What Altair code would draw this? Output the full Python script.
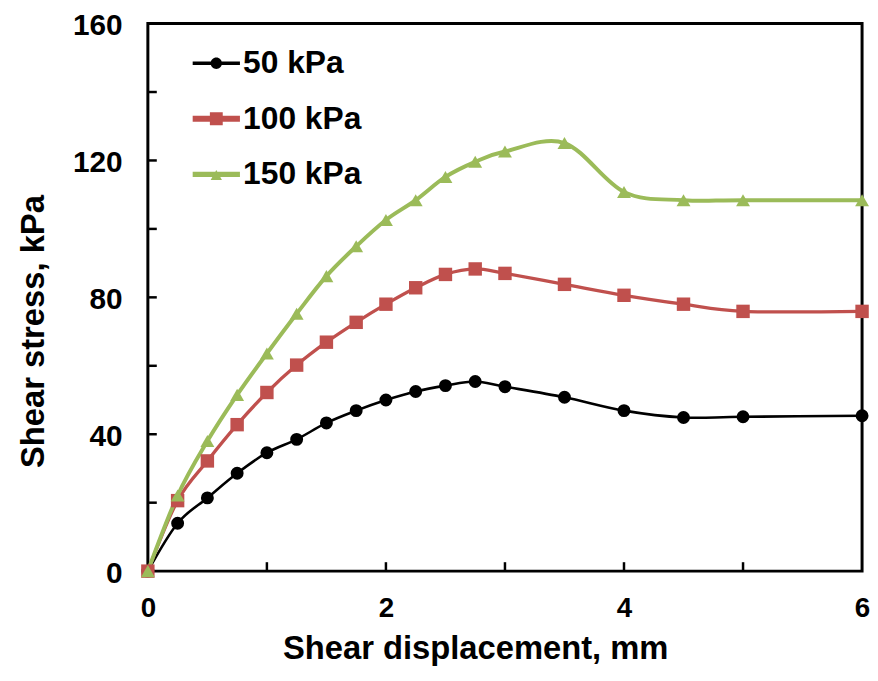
import altair as alt
import pandas as pd

disp = [0, 0.25, 0.5, 0.75, 1, 1.25, 1.5, 1.75, 2, 2.25, 2.5, 2.75, 3, 3.5, 4, 4.5, 5, 6]
s50 = [0, 14.0, 21.4, 28.6, 34.6, 38.5, 43.3, 46.9, 50.0, 52.5, 54.2, 55.4, 53.9, 50.8, 46.9, 44.9, 45.1, 45.4]
s100 = [0, 20.6, 32.2, 42.8, 52.2, 60.2, 66.9, 72.7, 78.0, 82.8, 86.7, 88.3, 87.0, 83.8, 80.6, 78.0, 75.9, 75.9]
s150 = [0, 22.1, 38.0, 51.5, 63.6, 75.2, 86.2, 94.9, 102.6, 108.4, 115.2, 119.6, 122.6, 125.1, 110.8, 108.4, 108.4, 108.4]

series = ["50 kPa", "100 kPa", "150 kPa"]
colors = ["#000000", "#C0504D", "#9BBB59"]
line_widths = [2.6, 4, 4.2]
marker_shapes = ["circle", "square", "triangle-up"]
marker_sizes = [170, 196, 240]

y_label_values = [0, 40, 80, 120, 160]
x_label_values = [0, 2, 4, 6]
y_minor_ticks = [20, 40, 60, 80, 100, 120, 140]
x_minor_ticks = [1, 2, 3, 4, 5]

# legend symbols: line segment with marker (unit box -1..1, 1 unit = 6 px)
legend_paths = [
    "M-3.97,-0.28H3.97V0.28H-3.97Z M0.95,0A0.95,0.95 0 1,1 -0.95,0A0.95,0.95 0 1,1 0.95,0Z",
    "M-3.97,-0.5H3.97V0.5H-3.97Z M-1.08,-1.08H1.08V1.08H-1.08Z",
    "M-3.97,-0.44H3.97V0.44H-3.97Z M0,-0.75L0.95,0.95H-0.95Z",
]

FONT = "Liberation Sans"

rows = []
for name, vals in zip(series, [s50, s100, s150]):
    for x, y in zip(disp, vals):
        rows.append({"series": name, "disp": x, "stress": y})
df = pd.DataFrame(rows)

x_enc = alt.X(
    "disp:Q",
    scale=alt.Scale(domain=[0, 6], nice=False, zero=False),
    axis=alt.Axis(
        values=x_label_values, format="d", title="Shear displacement, mm", grid=False,
        domain=False, ticks=False, labelFontSize=28, labelFontWeight="bold",
        labelFont=FONT, labelColor="black", labelPadding=24, labelFlush=False,
        labelOverlap=False, titleFont=FONT, titleFontSize=33, titleFontWeight="bold",
        titleColor="black", titleX=330, titleY=88, titleBaseline="alphabetic",
    ),
)
y_enc = alt.Y(
    "stress:Q",
    scale=alt.Scale(domain=[0, 160], nice=False),
    axis=alt.Axis(
        values=y_label_values, format="d", title="Shear stress, kPa", grid=False,
        domain=False, ticks=False, labelFontSize=30, labelFontWeight="bold",
        labelFont=FONT, labelColor="black", labelPadding=26, labelOverlap=False,
        labelFlush=False, labelOffset=2, titleFont=FONT, titleFontSize=33,
        titleFontWeight="bold", titleColor="black", titlePadding=22, titleY=310,
    ),
)

color_main = alt.Color("series:N", scale=alt.Scale(domain=series, range=colors), legend=None)

lines = alt.Chart(df).mark_line(interpolate="cardinal").encode(
    x=x_enc, y=y_enc, color=color_main,
    strokeWidth=alt.StrokeWidth("series:N", scale=alt.Scale(domain=series, range=line_widths), legend=None),
    detail="series:N",
)

points = alt.Chart(df).mark_point(filled=True, opacity=1).encode(
    x="disp:Q", y="stress:Q", color=color_main,
    shape=alt.Shape("series:N", scale=alt.Scale(domain=series, range=marker_shapes), legend=None),
    size=alt.Size("series:N", scale=alt.Scale(domain=series, range=marker_sizes), legend=None),
)

y_ticks = alt.Chart(pd.DataFrame({"stress": y_minor_ticks})).mark_rule(color="black", strokeWidth=2.5).encode(
    y="stress:Q", x=alt.value(0), x2=alt.value(9)
)
x_ticks = alt.Chart(pd.DataFrame({"disp": x_minor_ticks})).mark_rule(color="black", strokeWidth=2.5).encode(
    x="disp:Q", y=alt.value(552), y2=alt.value(543)
)

main = alt.layer(lines, points, y_ticks, x_ticks)

leg_cfg = alt.Legend(
    title=None, orient="none", legendX=53, legendY=24, padding=0, symbolSize=144,
    symbolStrokeWidth=0, symbolOpacity=1, labelFontSize=32, labelFont=FONT,
    labelFontWeight="bold", labelColor="black", labelOffset=11, rowPadding=24,
    labelBaseline="middle",
)

legend_layer = alt.Chart(pd.DataFrame({"series": series})).mark_point(filled=True, opacity=1, clip=True).encode(
    x=alt.value(-100), y=alt.value(-100),
    color=alt.Color("series:N", scale=alt.Scale(domain=series, range=colors), legend=leg_cfg),
    shape=alt.Shape("series:N", scale=alt.Scale(domain=series, range=legend_paths), legend=leg_cfg),
)

chart = (
    alt.layer(main, legend_layer)
    .resolve_scale(color="independent", shape="independent")
    .properties(
        width=720, height=552,
        padding={"left": 141, "top": 13, "right": 8, "bottom": 100},
        autosize=alt.AutoSizeParams(type="none"),
        background="white",
    )
    .configure_view(stroke="black", strokeWidth=3)
)

chart.save("out.html", embed_options={"renderer": "svg", "actions": False})
